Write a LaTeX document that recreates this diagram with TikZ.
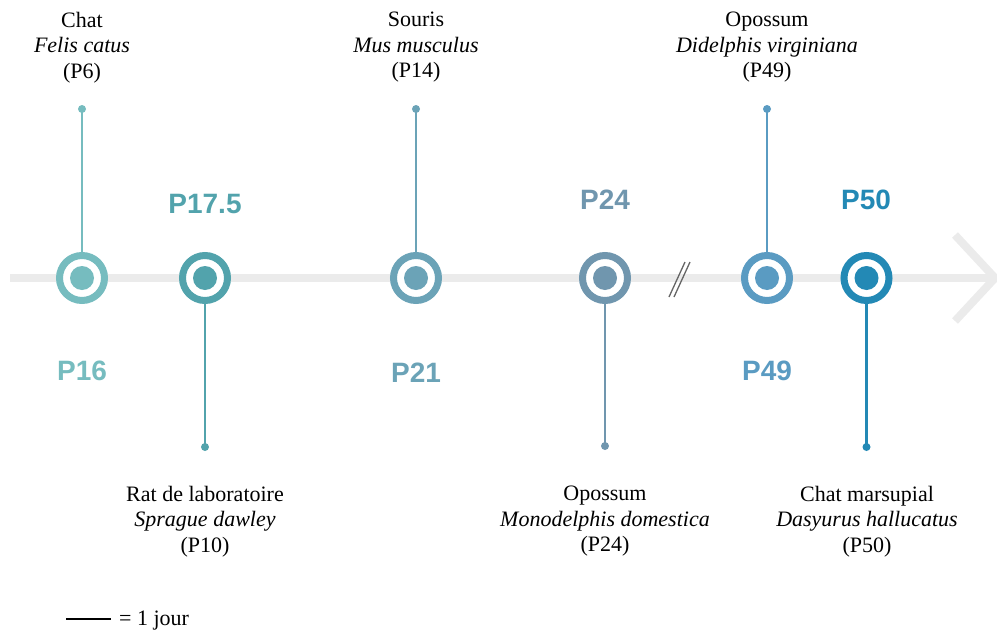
\documentclass[tikz,border=0pt]{standalone}
\usepackage{fontspec}
\setmainfont{Liberation Serif}
\newfontfamily\labfont{Liberation Sans}
\begin{document}
\begin{tikzpicture}[x=1pt,y=-1pt,
  ring/.style={circle,draw=#1,line width=7pt,fill=white,minimum size=45pt,inner sep=0pt},
  core/.style={circle,fill=#1,minimum size=24pt,inner sep=0pt},
  tipdot/.style={circle,fill=#1,minimum size=8pt,inner sep=0pt},
  stem/.style={draw=#1,line width=2.8pt},
  plabel/.style={text=#1,font=\labfont\bfseries\fontsize{28}{30}\selectfont,inner sep=0pt},
  species/.style={align=center,font=\fontsize{22}{25.5}\selectfont,inner sep=0pt},
  axis/.style={draw=axisgray,line width=8pt}]
\definecolor{axisgray}{HTML}{EBEBEB}
\definecolor{cA}{HTML}{76BCBF}
\definecolor{cB}{HTML}{52A3AC}
\definecolor{cC}{HTML}{6BA3B7}
\definecolor{cD}{HTML}{7096AE}
\definecolor{cE}{HTML}{5A9BC2}
\definecolor{cF}{HTML}{2389B5}
\definecolor{breakgray}{HTML}{666666}
\useasboundingbox (0,0) rectangle (997,632);
% axis
\coordinate (axL) at (10,278);
\coordinate (axR) at (995,278);
\coordinate (chT) at (955,235);
\coordinate (chB) at (955,321);
\draw[axis] (axL) -- (axR);
\draw[axis,line cap=butt,line join=miter] (chT) -- (axR) -- (chB);
% break mark
\coordinate (b1a) at (669,297); \coordinate (b1b) at (685,262);
\coordinate (b2a) at (674,297); \coordinate (b2b) at (690,262);
\draw[breakgray,line width=1.3pt] (b1a) -- (b1b);
\draw[breakgray,line width=1.3pt] (b2a) -- (b2b);
% stems and dots
\node[tipdot=cA] (d1) at (82,109) {};
\node[tipdot=cB] (d2) at (205,447) {};
\node[tipdot=cC] (d3) at (416,109) {};
\node[tipdot=cD] (d4) at (605,446) {};
\node[tipdot=cE] (d5) at (767,109) {};
\node[tipdot=cF] (d6) at (866.5,447) {};
\coordinate (p1) at (82,278);
\coordinate (p2) at (205,278);
\coordinate (p3) at (416,278);
\coordinate (p4) at (605,278);
\coordinate (p5) at (767,278);
\coordinate (p6) at (866.5,278);
\draw[stem=cA] (d1.center) -- (p1);
\draw[stem=cB] (d2.center) -- (p2);
\draw[stem=cC] (d3.center) -- (p3);
\draw[stem=cD] (d4.center) -- (p4);
\draw[stem=cE] (d5.center) -- (p5);
\draw[stem=cF] (d6.center) -- (p6);
% rings
\node[ring=cA] (r1) at (p1) {};
\node[ring=cB] (r2) at (p2) {};
\node[ring=cC] (r3) at (p3) {};
\node[ring=cD] (r4) at (p4) {};
\node[ring=cE] (r5) at (p5) {};
\node[ring=cF] (r6) at (p6) {};
\node[core=cA] (k1) at (p1) {};
\node[core=cB] (k2) at (p2) {};
\node[core=cC] (k3) at (p3) {};
\node[core=cD] (k4) at (p4) {};
\node[core=cE] (k5) at (p5) {};
\node[core=cF] (k6) at (p6) {};
% P labels
\node[plabel=cA] (l1) at (82,371) {P16};
\node[plabel=cB] (l2) at (205,204) {P17.5};
\node[plabel=cC] (l3) at (416,373) {P21};
\node[plabel=cD] (l4) at (605,200) {P24};
\node[plabel=cE] (l5) at (767,371) {P49};
\node[plabel=cF] (l6) at (866,200) {P50};
% species
\node[species] (s1) at (82,47.5) {Chat\\\textit{Felis catus}\\(P6)};
\node[species] (s3) at (416,47.5) {Souris\\\textit{Mus musculus}\\(P14)};
\node[species] (s5) at (767,47.5) {Opossum\\\textit{Didelphis virginiana}\\(P49)};
\node[species] (s2) at (205,521.5) {Rat de laboratoire\\\textit{Sprague dawley}\\(P10)};
\node[species] (s4) at (605,521.5) {Opossum\\\textit{Monodelphis domestica}\\(P24)};
\node[species] (s6) at (867,521.5) {Chat marsupial\\\textit{Dasyurus hallucatus}\\(P50)};
% legend
\coordinate (lg1) at (66,619);
\coordinate (lg2) at (111,619);
\draw[black,line width=1.3pt] (lg1) -- (lg2);
\node[anchor=west,inner sep=0pt,font=\fontsize{22}{25}\selectfont] (lgt) at (119,621) {= 1 jour};
\end{tikzpicture}
\end{document}
